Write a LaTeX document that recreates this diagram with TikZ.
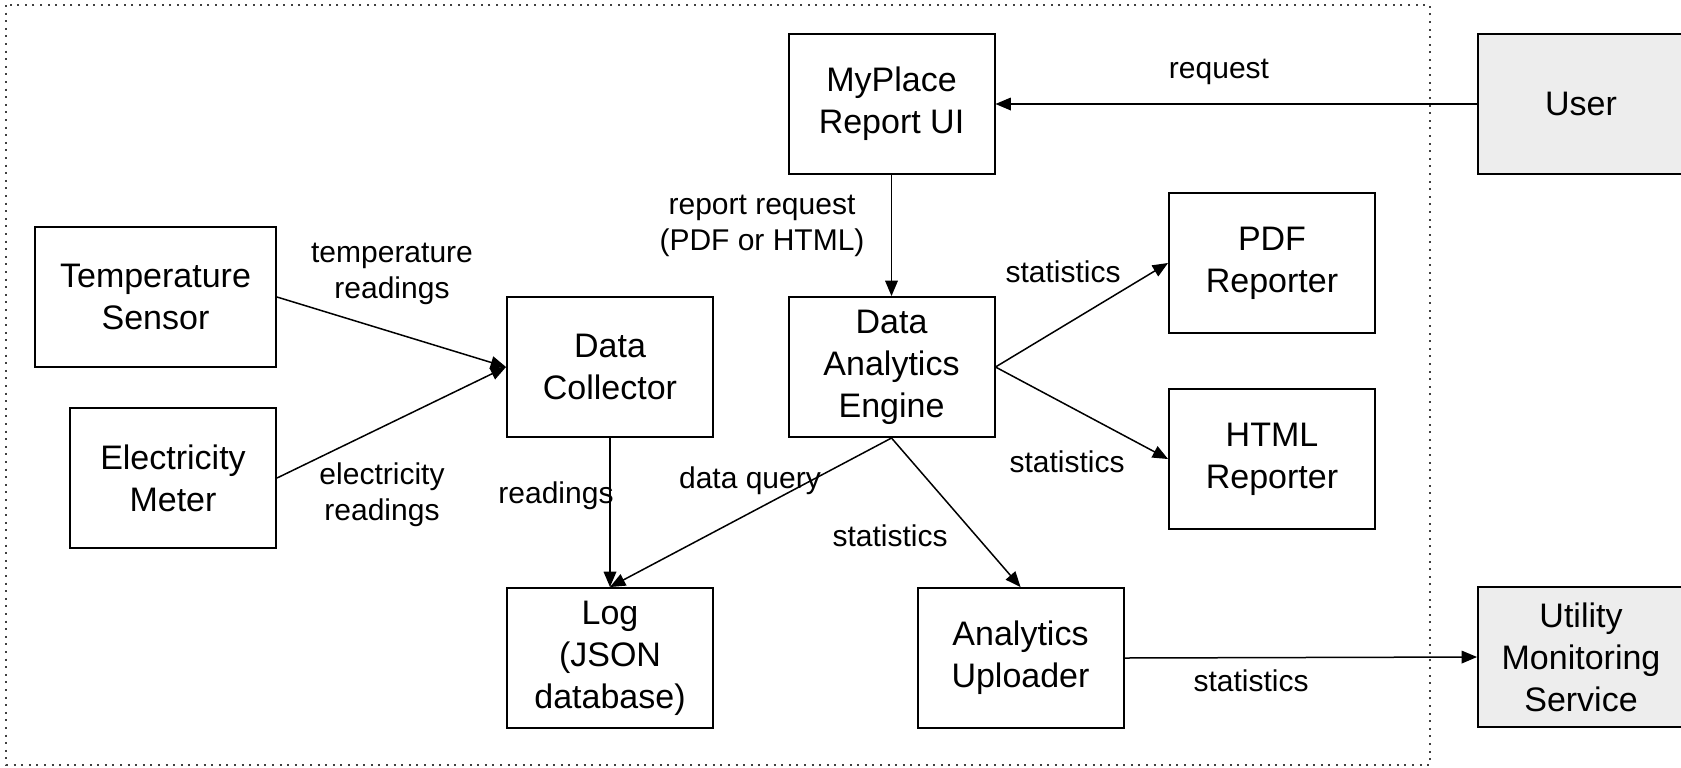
\documentclass[tikz,border=0pt]{standalone}
\usepackage{fontspec}
\setmainfont{Liberation Sans}
\usetikzlibrary{arrows}

\tikzset{
  block/.style={draw, line width=1pt, inner sep=0pt, align=center,
    minimum width=103pt, minimum height=70pt,
    font=\fontsize{17}{21}\selectfont},
  actor/.style={block, fill=black!7},
  lbl/.style={align=center, inner sep=0pt, font=\fontsize{15}{18}\selectfont}
}

\begin{document}
\begin{tikzpicture}[x=0.5pt, y=-0.5pt, >=triangle 45]
\useasboundingbox (0,0) rectangle (1681,767);
% system boundary
\draw [black!75, line width=1pt, dash pattern=on 1pt off 2.8pt] (6,5) rectangle (1430,765);

\node [block] (ui)   at (891.5,104) {MyPlace\\Report UI};
\node [actor] (user) at (1581,104)  {User};
\node [block, minimum width=120.5pt] (temp) at (155.5,297) {Temperature\\Sensor};
\node [block] (elec) at (173,478)   {Electricity\\Meter};
\node [block] (coll) at (610,367)   {Data\\Collector};
\node [block] (eng)  at (891.5,367) {Data\\Analytics\\Engine};
\node [block] (pdf)  at (1272,263)  {PDF\\Reporter};
\node [block] (html) at (1272,459)  {HTML\\Reporter};
\node [block] (log)  at (610,658)   {Log\\(JSON\\database)};
\node [block] (upl)  at (1020.5,658) {Analytics\\Uploader};
\node [actor] (ums)  at (1581,657)  {Utility\\Monitoring\\Service};

\begin{scope}[line width=0.75pt]
  \draw [->] (user.west) -- (ui.east);
  \draw [->] (ui.south) -- (eng.north);
  \draw [->] (temp.east) -- (coll.west);
  \draw [->] (elec.east) -- (coll.west);
  \draw [->] (coll.south) -- (log.north);
  \draw [->] (eng.south) -- (log.north);
  \draw [->] (eng.south) -- (upl.north);
  \draw [->] (eng.east) -- (pdf.west);
  \draw [->] (eng.east) -- (html.west);
  \draw [->] (upl.east) -- (ums.west);
\end{scope}

\node [lbl] (lreq)  at (1219,72)  {request};
\node [lbl] (lrep)  at (762,226)  {report request\\(PDF or HTML)};
\node [lbl] (ltemp) at (392,274)  {temperature\\readings};
\node [lbl] (lelec) at (382,495)  {electricity\\readings};
\node [lbl] (lread) at (556,496)  {readings};
\node [lbl] (lqry)  at (750,481)  {data query};
\node [lbl] (lpdf)  at (1063,272) {statistics};
\node [lbl] (lhtml) at (1067,462) {statistics};
\node [lbl] (lupl)  at (890,536)  {statistics};
\node [lbl] (lums)  at (1251,681) {statistics};
\end{tikzpicture}
\end{document}
